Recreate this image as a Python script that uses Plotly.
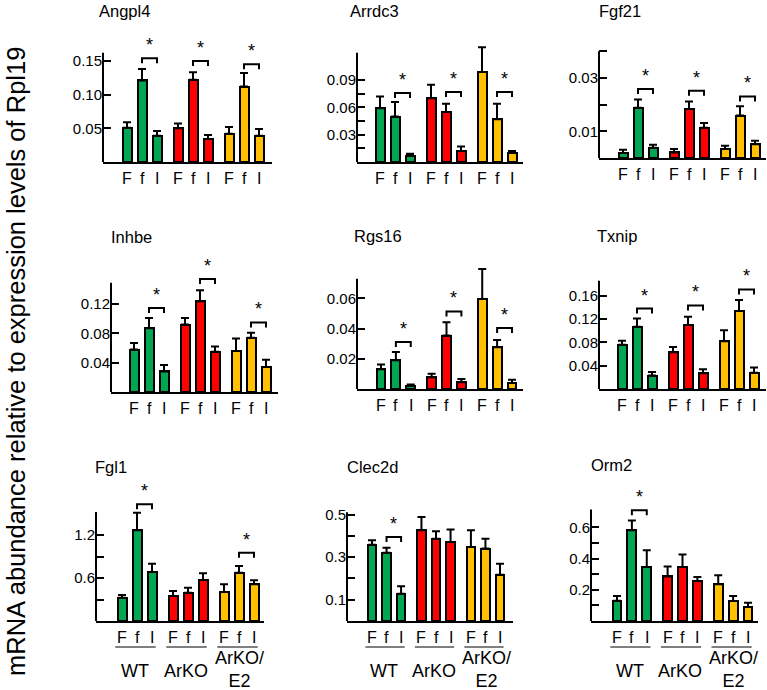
import plotly.graph_objects as go

W, H = 767, 690
FONT = "Liberation Sans, Arial, sans-serif"

GENES = ["Angpl4", "Arrdc3", "Fgf21", "Inhbe", "Rgs16", "Txnip", "Fgl1", "Clec2d", "Orm2"]
SAMPLES = ["F", "f", "I"]
GROUPS = ["WT", "ArKO", "ArKO/<br>E2"]
GROUP_COLORS = ["#00a651", "#ff0000", "#ffc000"]

# means, order: WT F f I | ArKO F f I | ArKO/E2 F f I
angpl4 = [0.051, 0.121, 0.039, 0.050, 0.122, 0.034, 0.042, 0.112, 0.039]
arrdc3 = [0.059, 0.050, 0.007, 0.070, 0.055, 0.012, 0.099, 0.047, 0.010]
fgf21 = [0.0019, 0.0188, 0.0038, 0.0021, 0.0184, 0.0113, 0.0034, 0.0159, 0.0052]
inhbe = [0.058, 0.087, 0.028, 0.092, 0.124, 0.055, 0.056, 0.074, 0.034]
rgs16 = [0.013, 0.019, 0.002, 0.0077, 0.0354, 0.0044, 0.0596, 0.0277, 0.0040]
txnip = [0.076, 0.107, 0.023, 0.063, 0.110, 0.027, 0.082, 0.134, 0.028]
fgl1 = [0.325, 1.265, 0.684, 0.349, 0.395, 0.572, 0.405, 0.674, 0.512]
clec2d = [0.358, 0.321, 0.128, 0.426, 0.386, 0.371, 0.347, 0.340, 0.217]
orm2 = [0.130, 0.581, 0.346, 0.286, 0.346, 0.256, 0.235, 0.128, 0.090]

# upper error (SEM)
angpl4_sem = [0.008, 0.017, 0.007, 0.007, 0.011, 0.006, 0.010, 0.020, 0.010]
arrdc3_sem = [0.013, 0.016, 0.002, 0.015, 0.009, 0.005, 0.027, 0.017, 0.002]
fgf21_sem = [0.0012, 0.0031, 0.0012, 0.0013, 0.0028, 0.0018, 0.0012, 0.0035, 0.0013]
inhbe_sem = [0.009, 0.014, 0.009, 0.009, 0.015, 0.007, 0.017, 0.007, 0.010]
rgs16_sem = [0.0033, 0.0055, 0.0010, 0.0024, 0.0088, 0.0022, 0.0198, 0.0048, 0.0021]
txnip_sem = [0.007, 0.014, 0.006, 0.009, 0.014, 0.007, 0.019, 0.019, 0.009]
fgl1_sem = [0.038, 0.246, 0.116, 0.070, 0.070, 0.093, 0.107, 0.093, 0.055]
clec2d_sem = [0.021, 0.023, 0.035, 0.062, 0.035, 0.058, 0.079, 0.046, 0.052]
orm2_sem = [0.030, 0.064, 0.107, 0.064, 0.081, 0.026, 0.058, 0.032, 0.027]

MEANS = dict(zip(GENES, [angpl4, arrdc3, fgf21, inhbe, rgs16, txnip, fgl1, clec2d, orm2]))
SEMS = dict(zip(GENES, [angpl4_sem, arrdc3_sem, fgf21_sem, inhbe_sem, rgs16_sem,
                        txnip_sem, fgl1_sem, clec2d_sem, orm2_sem]))

# significance (f vs I) : (group index, bracket height)
SIG = {
    "Angpl4": [(0, 0.154), (1, 0.150), (2, 0.145)],
    "Arrdc3": [(0, 0.0758), (1, 0.0769), (2, 0.0769)],
    "Fgf21": [(0, 0.0259), (1, 0.0252), (2, 0.0231)],
    "Inhbe": [(0, 0.1147), (1, 0.1542), (2, 0.0950)],
    "Rgs16": [(0, 0.0311), (1, 0.0514), (2, 0.0404)],
    "Txnip": [(0, 0.1382), (1, 0.1434), (2, 0.1709)],
    "Fgl1": [(0, 1.628), (2, 0.954)],
    "Clec2d": [(0, 0.394)],
    "Orm2": [(0, 0.7096)],
}

# y ticks
TICKS = {
    "Angpl4": ([0.05, 0.10, 0.15], ["0.05", "0.10", "0.15"]),
    "Arrdc3": ([0.015, 0.03, 0.045, 0.06, 0.075, 0.09], ["", "0.03", "", "0.06", "", "0.09"]),
    "Fgf21": ([0.01, 0.02, 0.03, 0.04], ["0.01", "", "0.03", ""]),
    "Inhbe": ([0.04, 0.08, 0.12], ["0.04", "0.08", "0.12"]),
    "Rgs16": ([0.02, 0.04, 0.06], ["0.02", "0.04", "0.06"]),
    "Txnip": ([0.04, 0.08, 0.12, 0.16], ["0.04", "0.08", "0.12", "0.16"]),
    "Fgl1": ([0.3, 0.6, 0.9, 1.2], ["", "0.6", "", "1.2"]),
    "Clec2d": ([0.1, 0.2, 0.3, 0.4, 0.5], ["0.1", "", "0.3", "", "0.5"]),
    "Orm2": ([0.1, 0.2, 0.3, 0.4, 0.5, 0.6], ["", "0.2", "", "0.4", "", "0.6"]),
}

# panel geometry in pixels: axis left/right, first/last bar centre, baseline,
# value per pixel, top of plotting area, top of drawn y axis (value), title pos
PANELS = {
    "Angpl4": dict(left=103, right=272, c0=127, c8=259, base=162, vpp=0.05 / 33.7, top=28, atop=0.162, tx=97, ty=11),
    "Arrdc3": dict(left=357, right=523, c0=380, c8=512, base=162, vpp=0.03 / 27.3, top=28, atop=0.12, tx=348, ty=11),
    "Fgf21": dict(left=599, right=766, c0=623, c8=755, base=158, vpp=0.01 / 26.67, top=28, atop=0.04, tx=597, ty=11),
    "Inhbe": dict(left=111, right=278, c0=134, c8=266, base=392, vpp=0.04 / 29.3, top=250, atop=0.149, tx=109, ty=237),
    "Rgs16": dict(left=357, right=523, c0=381, c8=512, base=389, vpp=0.02 / 30.2, top=255, atop=0.073, tx=352, ty=236),
    "Txnip": dict(left=599, right=766, c0=622, c8=754, base=389, vpp=0.04 / 23.3, top=258, atop=0.186, tx=595, ty=236),
    "Fgl1": dict(left=96, right=264, c0=122, c8=254, base=621, vpp=0.3 / 21.5, top=476, atop=1.52, tx=93, ty=467),
    "Clec2d": dict(left=347, right=513, c0=372, c8=500, base=621, vpp=0.1 / 21.3, top=490, atop=0.511, tx=345, ty=467),
    "Orm2": dict(left=591, right=758, c0=617, c8=748, base=621, vpp=0.1 / 15.6, top=478, atop=0.714, tx=589, ty=465),
}

GROUP_START = [0, 3.4, 6.8]
XPOS = [g + k for g in GROUP_START for k in range(3)]
BAR_COLORS = [c for c in GROUP_COLORS for _ in range(3)]

fig = go.Figure()
shapes, annotations = [], []
layout_axes = {}

for i, gene in enumerate(GENES):
    n = "" if i == 0 else str(i + 1)
    p = PANELS[gene]
    u = (p["c8"] - p["c0"]) / XPOS[-1]
    xr = [-(p["c0"] - p["left"]) / u, XPOS[-1] + (p["right"] - p["c8"]) / u]
    ymax = (p["base"] - p["top"]) * p["vpp"]

    fig.add_trace(
        go.Bar(
            x=XPOS,
            y=MEANS[gene],
            xaxis="x" + n,
            yaxis="y" + n,
            width=0.6,
            marker=dict(color=BAR_COLORS, line=dict(color="black", width=2)),
            error_y=dict(
                type="data",
                array=SEMS[gene],
                arrayminus=[0] * 9,
                symmetric=False,
                color="black",
                thickness=2,
                width=4,
            ),
            showlegend=False,
            hoverinfo="skip",
        )
    )

    layout_axes["xaxis" + n] = dict(
        domain=[p["left"] / W, p["right"] / W],
        range=xr,
        anchor="y" + n,
        showline=True,
        linecolor="black",
        linewidth=2,
        ticks="",
        showticklabels=False,
        showgrid=False,
        zeroline=False,
    )
    tv, tt = TICKS[gene]
    layout_axes["yaxis" + n] = dict(
        domain=[1 - p["base"] / H, 1 - p["top"] / H],
        range=[0, ymax],
        anchor="x" + n,
        showline=False,
        ticks="inside",
        ticklen=8,
        tickwidth=2,
        tickcolor="black",
        tickvals=tv,
        ticktext=tt,
        tickfont=dict(size=15, color="black"),
        showgrid=False,
        zeroline=False,
    )

    # F f I labels under the bars
    for x, s in zip(XPOS, SAMPLES * 3):
        annotations.append(dict(
            x=x, y=1 - (p["base"] + 16) / H, xref="x" + n, yref="paper",
            text=s, showarrow=False, xanchor="center", yanchor="middle",
            font=dict(size=16, color="black", family=FONT),
        ))

    # drawn y axis line (stops below the significance marks)
    shapes.append(dict(
        type="line", xref="x" + n + " domain", yref="y" + n,
        x0=0, x1=0, y0=-1.5 * p["vpp"], y1=p["atop"],
        line=dict(color="black", width=2),
    ))

    # significance brackets
    drop = 5 * p["vpp"]
    for g, h in SIG[gene]:
        xa, xb = GROUP_START[g] + 1, GROUP_START[g] + 2
        shapes.append(dict(
            type="path", xref="x" + n, yref="y" + n,
            path=f"M {xa} {h - drop} L {xa} {h} L {xb} {h} L {xb} {h - drop}",
            line=dict(color="black", width=2),
        ))
        annotations.append(dict(
            x=(xa + xb) / 2, y=h, xref="x" + n, yref="y" + n,
            text="*", showarrow=False, yanchor="bottom", yshift=1,
            font=dict(size=18, color="black", family=FONT),
        ))

    # panel title
    annotations.append(dict(
        x=p["tx"] / W, y=1 - p["ty"] / H, xref="paper", yref="paper",
        text=gene, showarrow=False, xanchor="left", yanchor="middle",
        font=dict(size=16.5, color="black", family=FONT),
    ))

    # group underlines and labels on bottom row
    if i >= 6:
        for g, label in enumerate(GROUPS):
            g0 = GROUP_START[g]
            shapes.append(dict(
                type="line", xref="x" + n, yref="paper",
                x0=g0 - 0.45, x1=g0 + 2.25, y0=1 - 647 / H, y1=1 - 647 / H,
                line=dict(color="black", width=1),
            ))
            two_line = g == 2
            annotations.append(dict(
                x=g0 + (1.05 if two_line else 0.85),
                y=1 - (669 if two_line else 671) / H,
                xref="x" + n, yref="paper",
                text=label, showarrow=False, xanchor="center", yanchor="middle",
                font=dict(size=18, color="black", family=FONT),
            ))

annotations.append(dict(
    x=16 / W, y=1 - 362 / H, xref="paper", yref="paper",
    text="mRNA abundance relative to expression levels of Rpl19",
    textangle=-90, showarrow=False, xanchor="center", yanchor="middle",
    font=dict(size=25.5, color="black", family=FONT),
))

fig.update_layout(
    width=W,
    height=H,
    margin=dict(l=0, r=0, t=0, b=0),
    paper_bgcolor="white",
    plot_bgcolor="white",
    font=dict(family=FONT, color="black"),
    bargap=0,
    shapes=shapes,
    annotations=annotations,
    **layout_axes,
)

fig.write_html(
    "out.html",
    config={"displayModeBar": False},
    post_script="document.body.style.margin='0';document.body.style.overflow='hidden';",
)
